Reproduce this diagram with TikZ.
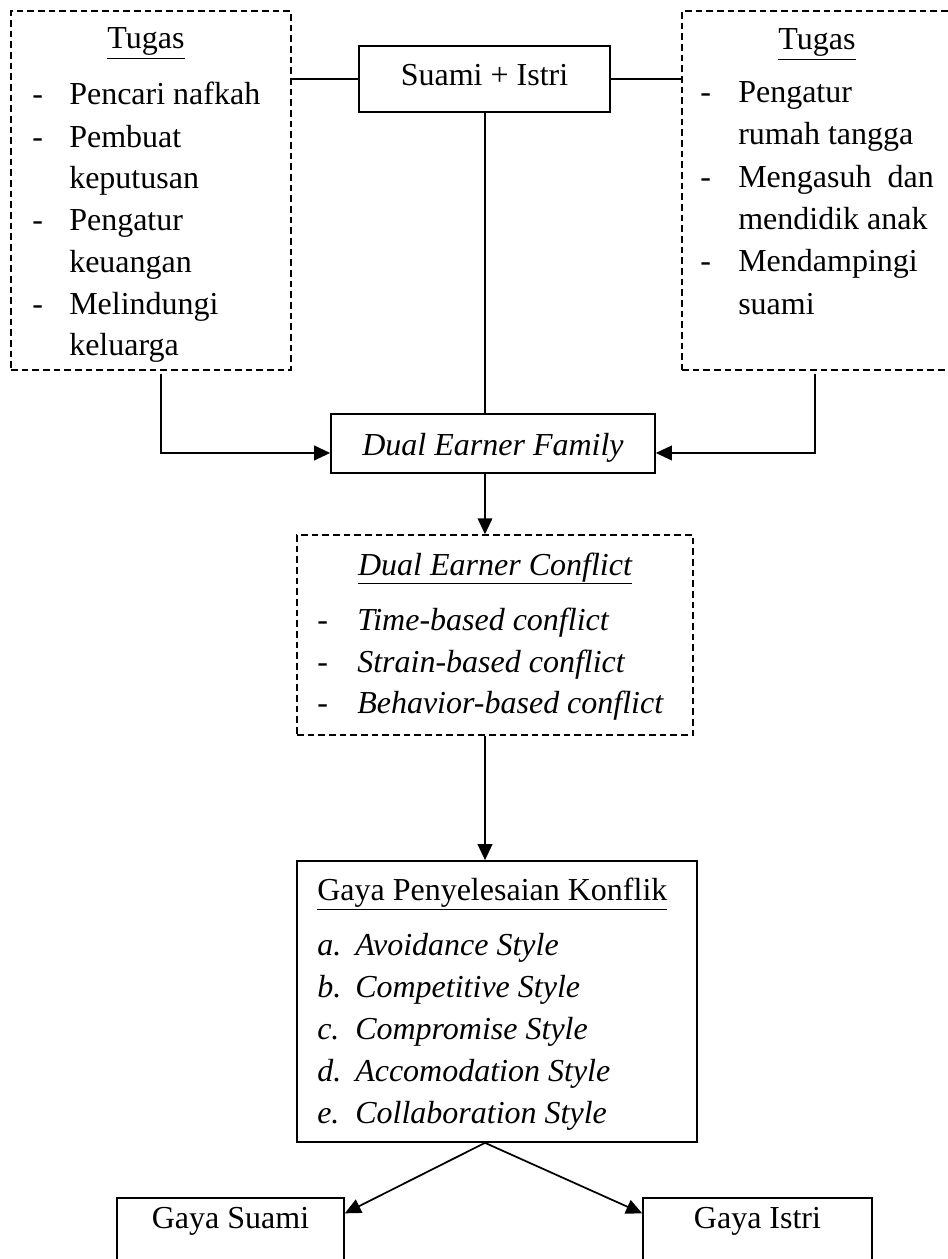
\documentclass[tikz,border=0pt]{standalone}
\usepackage{fontspec}
\setmainfont{Liberation Serif}
\usetikzlibrary{arrows.meta}
\begin{document}
\begin{tikzpicture}[x=0.75pt,y=-0.75pt,
  font=\fontsize{24}{28}\selectfont,
  solidbox/.style={draw, line width=1.25pt, inner sep=0pt},
  dashbox/.style={draw, line width=1.1pt, dash pattern=on 5pt off 3pt, inner sep=0pt},
  conn/.style={line width=1.3pt},
  arr/.style={line width=1.3pt, -{Triangle[length=12pt,width=11pt]}},
  txt/.style={anchor=base west, inner sep=0pt},
  ctxt/.style={anchor=base, inner sep=0pt}]
\useasboundingbox (0,0) rectangle (947,1259);

% boxes
\node[dashbox, minimum width=210pt, minimum height=269.25pt] (lbox) at (151,190.5) {};
\node[dashbox, minimum width=201pt, minimum height=269.25pt] (rbox) at (816,190.5) {};
\node[solidbox, minimum width=188.25pt, minimum height=49.5pt] (suami) at (484.5,79) {};
\node[solidbox, minimum width=243pt, minimum height=44.25pt] (def) at (493,443.5) {};
\node[dashbox, minimum width=297pt, minimum height=150pt] (dec) at (495,635) {};
\node[solidbox, minimum width=300pt, minimum height=210.75pt] (gpk) at (497,1001.5) {};
\node[solidbox, minimum width=170.25pt, minimum height=69pt] (gs) at (230.5,1244) {};
\node[solidbox, minimum width=171.75pt, minimum height=69pt] (gi) at (757.5,1244) {};

% left box text
\node[ctxt] (lt) at (146,49) {\underline{Tugas}};
\foreach \y/\d/\t [count=\i] in {105/-/Pencari nafkah, 147/-/Pembuat, 189/{}/keputusan, 230/-/Pengatur, 272/{}/keuangan, 314/-/Melindungi, 355/{}/keluarga}{
  \node[txt] (la\i) at (32,\y) {\d};
  \node[txt] (lb\i) at (69,\y) {\t};
}
% right box text
\node[ctxt] (rt) at (817,50) {\underline{Tugas}};
\foreach \y/\d/\t [count=\i] in {103/-/Pengatur, 145/{}/rumah tangga, 187/-/Mengasuh\ \ dan, 229/{}/mendidik anak, 271/-/Mendampingi, 314/{}/suami}{
  \node[txt] (ra\i) at (700,\y) {\d};
  \node[txt] (rb\i) at (738,\y) {\t};
}
% centre texts
\node[ctxt] (st) at (484.5,86) {Suami + Istri};
\node[ctxt] (dt) at (493,455) {\itshape Dual Earner Family};
\node[ctxt] (ct) at (495,575) {\itshape\underline{Dual Earner Conflict}};
\foreach \y/\t [count=\i] in {630/Time-based conflict, 672/Strain-based conflict, 713/Behavior-based conflict}{
  \node[txt] (ca\i) at (317,\y) {-};
  \node[txt] (cb\i) at (357,\y) {\itshape \t};
}
\node[txt] (gt) at (317,900) {\underline{Gaya Penyelesaian Konflik}};
\foreach \y/\l/\t [count=\i] in {955/a./Avoidance Style, 997/b./Competitive Style, 1039/c./Compromise Style, 1081/d./Accomodation Style, 1123/e./Collaboration Style}{
  \node[txt] (ga\i) at (317,\y) {\itshape \l};
  \node[txt] (gb\i) at (355,\y) {\itshape \t};
}
\node[ctxt] (gst) at (230.5,1228) {Gaya Suami};
\node[ctxt] (git) at (757.5,1228) {Gaya Istri};

% connectors
\draw[conn] (suami.west) -- (suami.west -| lbox.east);
\draw[conn] (suami.east) -- (suami.east -| rbox.west);
\coordinate (axis) at (485,0);
\draw[conn] (axis |- suami.south) -- (axis |- def.north);
\draw[arr] ([xshift=7.5pt,yshift=-2.25pt]lbox.south) |- ([yshift=-7.1pt]def.west);
\draw[arr] ([xshift=-0.75pt,yshift=-2.25pt]rbox.south) |- ([yshift=-7.1pt]def.east);
\draw[arr] (axis |- def.south) -- (axis |- dec.north);
\draw[arr] (axis |- dec.south) -- (axis |- gpk.north);
\draw[arr] (axis |- gpk.south) -- ([yshift=23pt]gs.east);
\draw[arr] (axis |- gpk.south) -- ([yshift=23pt]gi.west);
\end{tikzpicture}
\end{document}
